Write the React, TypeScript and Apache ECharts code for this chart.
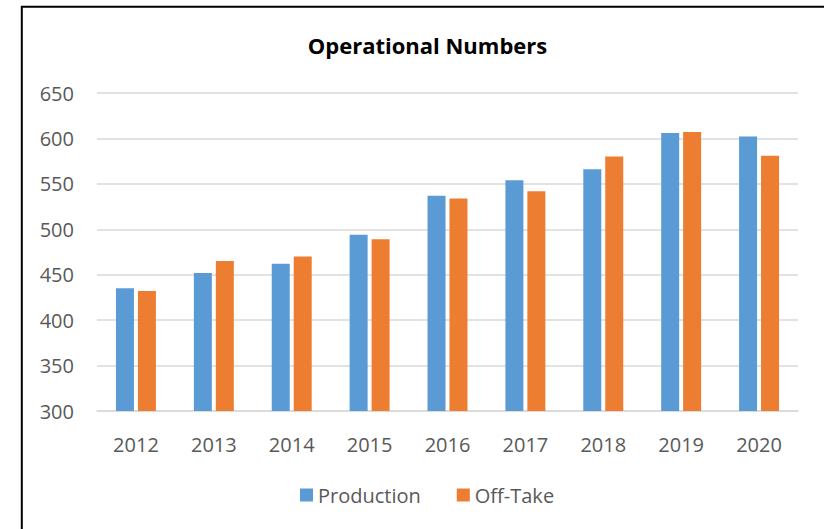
import React, { useEffect, useRef } from "react";
import * as echarts from "echarts";

const categories = ["2012", "2013", "2014", "2015", "2016", "2017", "2018", "2019", "2020"];
const production = [435, 452, 462, 494, 537, 554, 566, 606, 602];
const offTake = [432, 465, 470, 489, 534, 542, 580, 607, 581];
const yTicks = { min: 300, max: 650, interval: 50 };
const titleText = "Operational Numbers";

const FONT = "'Open Sans', 'Noto Sans', sans-serif";

export default function App() {
  const ref = useRef<HTMLDivElement>(null);
  useEffect(() => {
    if (!ref.current) return;
    const chart = echarts.init(ref.current, null, { renderer: "svg" });
    chart.setOption({
      animation: false,
      backgroundColor: "#ffffff",
      textStyle: { fontFamily: FONT },
      graphic: [
        {
          type: "rect",
          shape: { x: 21.8, y: 6.8, width: 900, height: 700 },
          style: { fill: "none", stroke: "#000000", lineWidth: 2 },
          silent: true,
        },
        {
          type: "text",
          x: 427.5,
          y: 45,
          style: {
            text: titleText,
            fontFamily: FONT,
            fontWeight: "bold",
            fontSize: 22,
            fill: "#000000",
            textAlign: "center",
            textVerticalAlign: "middle",
          },
        },
      ],
      legend: {
        data: ["Production", "Off-Take"],
        left: 300,
        top: 485,
        icon: "rect",
        itemWidth: 13,
        itemHeight: 13,
        itemGap: 36,
        textStyle: { fontFamily: FONT, fontSize: 20, color: "#595959", padding: [0, 0, 0, 0] },
        padding: 0,
      },
      grid: { left: 97, right: 26, top: 93, bottom: 118, containLabel: false },
      xAxis: {
        type: "category",
        data: categories,
        axisLine: { show: true, lineStyle: { color: "#d9d9d9", width: 1.5 } },
        axisTick: { show: false },
        axisLabel: { color: "#595959", fontSize: 20, fontFamily: FONT, margin: 23 },
      },
      yAxis: {
        type: "value",
        min: yTicks.min,
        max: yTicks.max,
        interval: yTicks.interval,
        axisLine: { show: false },
        axisTick: { show: false },
        splitLine: { lineStyle: { color: "#d9d9d9", width: 1.5 } },
        axisLabel: { color: "#595959", fontSize: 20, fontFamily: FONT, margin: 23 },
      },
      series: [
        {
          name: "Production",
          type: "bar",
          data: production,
          barWidth: 18,
          barGap: "22%",
          itemStyle: { color: "#5B9BD5" },
        },
        {
          name: "Off-Take",
          type: "bar",
          data: offTake,
          barWidth: 18,
          barGap: "22%",
          itemStyle: { color: "#ED7D31" },
        },
      ],
    });
    return () => chart.dispose();
  }, []);
  return (
    <div
      ref={ref}
      style={{ position: "fixed", left: 0, top: 0, width: 824, height: 529 }}
    />
  );
}
